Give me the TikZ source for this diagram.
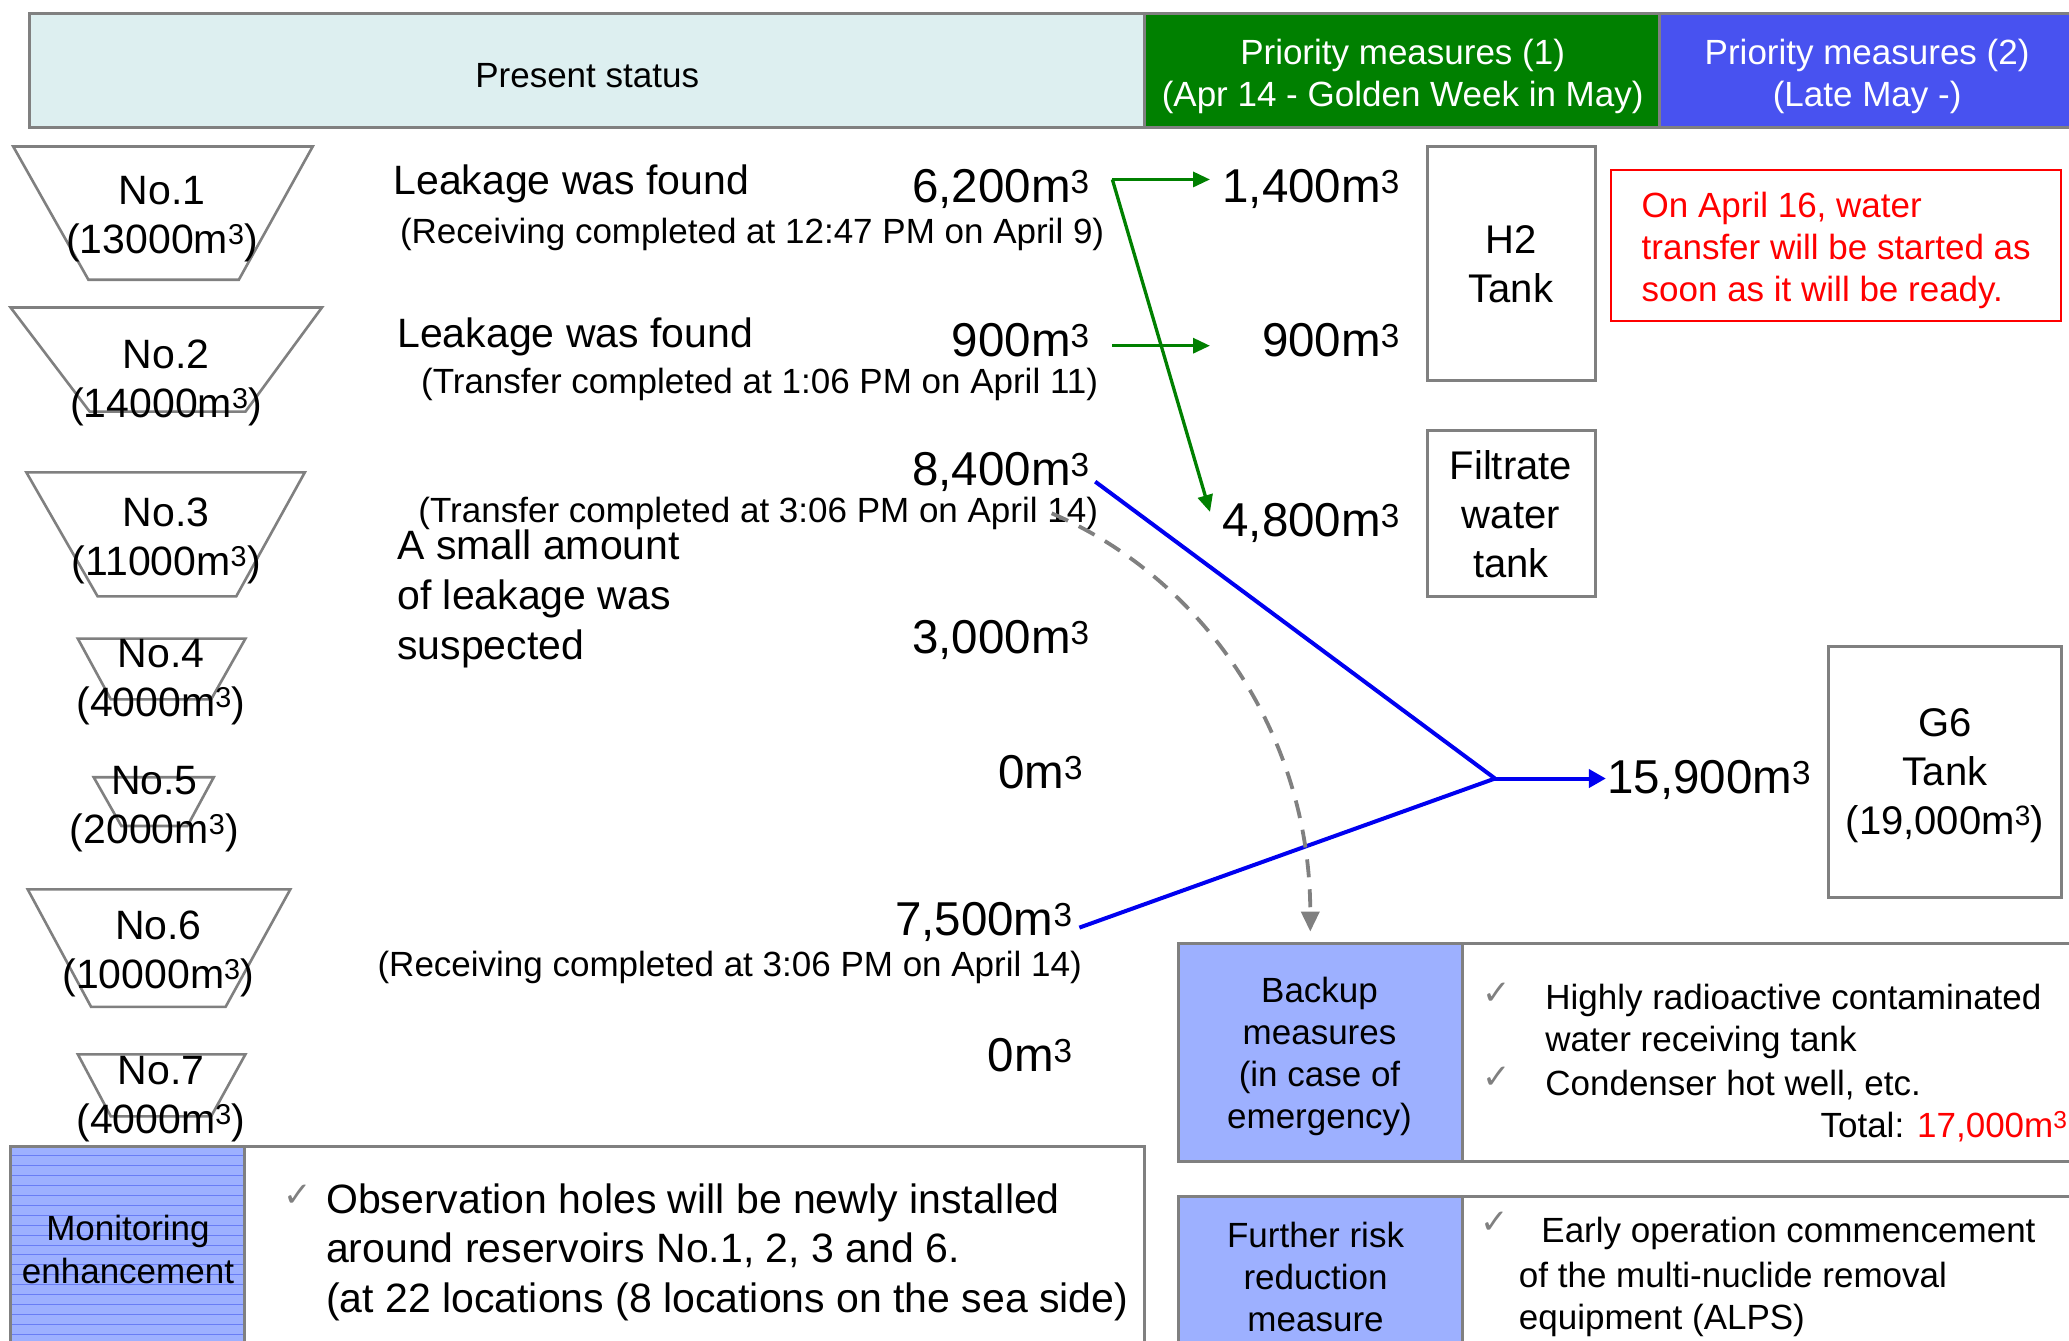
\documentclass[tikz,border=0pt]{standalone}
\usepackage{fontspec}
\setmainfont{Liberation Sans}
\newfontfamily\symfont{DejaVu Sans}
\usetikzlibrary{arrows.meta}
\definecolor{bordergray}{RGB}{128,128,128}
\definecolor{hdrcyan}{RGB}{221,239,240}
\definecolor{hdrgreen}{RGB}{0,128,0}
\definecolor{hdrblue}{RGB}{72,82,240}
\definecolor{cellblue}{RGB}{157,176,255}
\definecolor{stripeblue}{RGB}{105,125,245}
\definecolor{flowgreen}{RGB}{0,128,0}
\definecolor{flowblue}{RGB}{0,0,240}
\definecolor{alertred}{RGB}{255,0,0}
\definecolor{dashgray}{RGB}{128,128,128}
\newcommand{\fsz}[2]{\fontsize{#1}{#2}\selectfont}
\newcommand{\cub}{m\textsuperscript{3}}
\begin{document}
\begin{tikzpicture}[x=1.3195pt,y=-1.3195pt,
  frame/.style={draw=bordergray,line width=3pt},
  tankshape/.style={draw=bordergray,line width=2.6pt,fill=white},
  hdrtext/.style={inner sep=0pt,align=center,font=\fsz{35}{42}},
  tanklabel/.style={inner sep=0pt,align=center,font=\fsz{41}{49}},
  bigtext/.style={inner sep=0pt,align=left,font=\fsz{41}{50}},
  notetext/.style={inner sep=0pt,align=left,font=\fsz{35}{42}},
  volume/.style={inner sep=0pt,font=\fsz{47.5}{57}},
  boxtext/.style={inner sep=0pt,align=center,font=\fsz{40}{49}},
  celltext/.style={inner sep=0pt,align=center,font=\fsz{35}{42}},
  checkmark/.style={inner sep=0pt,text=dashgray,font=\symfont\fsz{34}{38}},
  greenflow/.style={draw=flowgreen,line width=3.3pt,-{Triangle[length=17pt,width=15pt]}},
  blueline/.style={draw=flowblue,line width=4pt},
  blueflow/.style={draw=flowblue,line width=4pt,-{Triangle[length=17pt,width=18pt]}},
  dashflow/.style={draw=dashgray,line width=3.8pt,dash pattern=on 18pt off 12pt,-{Triangle[length=20pt,width=18pt]}}
]
\useasboundingbox (0,0) rectangle (1568,1016);

% ---------------- header ----------------
\draw[frame,fill=hdrcyan] (22,10) rectangle (867,97);
\draw[frame,fill=hdrgreen] (867,10) rectangle (1258,97);
\draw[frame,fill=hdrblue] (1258,10) rectangle (1620,97);
\node[hdrtext] (hps) at (445,57) {Present status};
\node[hdrtext,text=white] (hp1) at (1063,58) {Priority measures (1)\\(Apr 14 - Golden Week in May)};
\node[hdrtext,text=white] (hp2) at (1415,58) {Priority measures (2)\\(Late May -)};

% ---------------- reservoirs ----------------
\draw[tankshape] (10,111) -- (237,111) -- (181,212) -- (67,212) -- cycle;
\draw[tankshape] (8,233) -- (244,233) -- (186,312) -- (68,312) -- cycle;
\draw[tankshape] (20,358) -- (231,358) -- (179,452) -- (74,452) -- cycle;
\draw[tankshape] (59,484) -- (186,484) -- (160,530) -- (84,530) -- cycle;
\draw[tankshape] (71,589) -- (162,589) -- (142,626) -- (92,626) -- cycle;
\draw[tankshape] (21,674) -- (220,674) -- (171,763) -- (69,763) -- cycle;
\draw[tankshape] (59,799) -- (186,799) -- (160,846) -- (84,846) -- cycle;
\node[tanklabel] (t1) at (123,166) {No.1\\(13000\cub)};
\node[tanklabel] (t2) at (126,290) {No.2\\(14000\cub)};
\node[tanklabel] (t3) at (126,410) {No.3\\(11000\cub)};
\node[tanklabel] (t4) at (122,517) {No.4\\(4000\cub)};
\node[tanklabel] (t5) at (117,613) {No.5\\(2000\cub)};
\node[tanklabel] (t6) at (120,723) {No.6\\(10000\cub)};
\node[tanklabel] (t7) at (122,833) {No.7\\(4000\cub)};

% ---------------- status texts ----------------
\node[bigtext,anchor=west] (s1) at (298,139) {Leakage was found};
\node[notetext,anchor=west] (s1n) at (303,178) {(Receiving completed at 12:47 PM on April 9)};
\node[bigtext,anchor=west] (s2) at (301,255) {Leakage was found};
\node[notetext,anchor=west] (s2n) at (319,291) {(Transfer completed at 1:06 PM on April 11)};
\node[notetext,anchor=west] (s3n) at (317,389) {(Transfer completed at 3:06 PM on April 14)};
\node[bigtext,anchor=west] (s4) at (301,454) {A small amount\\of leakage was\\suspected};
\node[notetext,anchor=west] (s6n) at (286,733) {(Receiving completed at 3:06 PM on April 14)};

% ---------------- volumes ----------------
\node[volume,anchor=east] (v1) at (826,143) {6,200\cub};
\node[volume,anchor=east] (v2) at (826,258) {900\cub};
\node[volume,anchor=east] (v3) at (826,358) {8,400\cub};
\node[volume,anchor=east] (v4) at (826,485) {3,000\cub};
\node[volume,anchor=east] (v5) at (821,585) {0\cub};
\node[volume,anchor=east] (v6) at (813,699) {7,500\cub};
\node[volume,anchor=east] (v7) at (813,800) {0\cub};
\node[volume,anchor=east] (w1) at (1061,143) {1,400\cub};
\node[volume,anchor=east] (w2) at (1061,258) {900\cub};
\node[volume,anchor=east] (w3) at (1061,396) {4,800\cub};
\node[volume,anchor=west] (w4) at (1218,591) {15,900\cub};

% ---------------- destination tanks ----------------
\draw[frame] (1082,111) rectangle (1209,288);
\node[boxtext] (h2) at (1145,200) {H2\\Tank};
\draw[frame] (1082,326) rectangle (1209,452);
\node[boxtext] (ft) at (1145,390) {Filtrate\\water\\tank};
\draw[frame] (1386,490) rectangle (1562,680);
\node[boxtext] (g6) at (1474,588) {G6\\Tank\\(19,000\cub)};
\draw[draw=alertred,line width=2pt] (1221,129) rectangle (1562,243);
\node[notetext,anchor=west,text=alertred] (note) at (1244,190) {On April 16, water\\transfer will be started as\\soon as it will be ready.};

% ---------------- flows ----------------
\coordinate (gsrc1) at (843,136);
\coordinate (gdst1) at (917,136);
\coordinate (gdst3) at (917,388);
\coordinate (gsrc2) at (843,262);
\coordinate (gdst2) at (917,262);
\draw[greenflow] (gsrc1) -- (gdst1);
\draw[greenflow] (gsrc1) -- (gdst3);
\draw[greenflow] (gsrc2) -- (gdst2);

\coordinate (bsrc3) at (830,365);
\coordinate (bsrc6) at (818,703);
\coordinate (bjoin) at (1133,590);
\coordinate (bdst) at (1217,590);
\draw[blueline] (bsrc3) -- (bjoin);
\draw[blueline] (bsrc6) -- (bjoin);
\draw[blueflow] (bjoin) -- (bdst);

\coordinate (dsrc) at (797,389);
\coordinate (ddst) at (993,706);
\draw[dashflow] (dsrc) .. controls (915,440) and (993,560) .. (ddst);

% ---------------- backup measures ----------------
\draw[frame] (893,715) rectangle (1620,880);
\draw[frame,fill=cellblue] (893,715) rectangle (1108,880);
\node[celltext] (bk) at (1000,801) {Backup\\measures\\(in case of\\emergency)};
\node[checkmark] (ck1) at (1134,753) {✓};
\node[checkmark] (ck2) at (1134,817) {✓};
\node[notetext,anchor=west] (bk1) at (1171,774) {Highly radioactive contaminated\\water receiving tank};
\node[notetext,anchor=west] (bk2) at (1171,822) {Condenser hot well, etc.};
\node[notetext,anchor=east] (bk3) at (1567,854) {Total: \textcolor{alertred}{17,000\cub}};

% ---------------- further risk reduction ----------------
\draw[frame] (893,907) rectangle (1620,1060);
\draw[frame,fill=cellblue] (893,907) rectangle (1108,1060);
\node[celltext] (fr) at (997,968) {Further risk\\reduction\\measure};
\node[checkmark] (ck3) at (1133,927) {✓};
\node[notetext,anchor=west] (fr1) at (1168,935) {Early operation commencement};
\node[notetext,anchor=west] (fr2) at (1151,985) {of the multi-nuclide removal\\equipment (ALPS)};

% ---------------- monitoring ----------------
\draw[frame] (8,869) rectangle (867,1060);
\fill[cellblue] (8,869) rectangle (185,1060);
\foreach \yy in {876,883.5,...,1016} \draw[stripeblue,line width=0.9pt] (9,\yy) -- (184,\yy);
\draw[frame] (8,869) rectangle (185,1060);
\node[celltext,font=\fsz{35}{43.5}] (mon) at (97,947) {Monitoring\\enhancement};
\node[checkmark] (ck4) at (226,906) {✓};
\node[bigtext,font=\fsz{41}{49.5}] (mon1) [anchor=west] at (247,949) {Observation holes will be newly installed\\around reservoirs No.1, 2, 3 and 6.\\(at 22 locations (8 locations on the sea side)};
\end{tikzpicture}
\end{document}
